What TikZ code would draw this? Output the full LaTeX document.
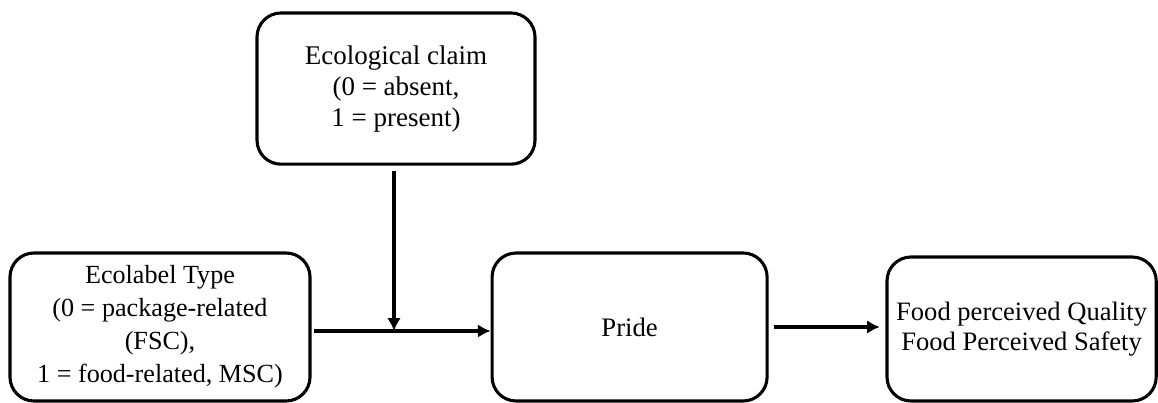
\documentclass[tikz,border=0pt]{standalone}
\usepackage{fontspec}
\setmainfont{Liberation Serif}
\usepackage{tikz}
\usetikzlibrary{positioning, arrows.meta}

\begin{document}
\begin{tikzpicture}[
    box/.style={draw, rectangle, rounded corners=0.6cm, line width=2.2pt, align=center},
    link/.style={line width=2.2pt, -{Latex[length=0.32cm, width=0.34cm]}}
]
        \useasboundingbox (0,0) rectangle (28.95,10.075);

        % Define the nodes
        \node[box, minimum width=7.5cm, minimum height=3.7cm, font=\fontsize{18.6}{23.5}\selectfont] (ecolabel) at (4.0,1.9)
            {Ecolabel Type\\(0 = package-related\\(FSC),\\1 = food-related, MSC)};
        \node[box, minimum width=6.95cm, minimum height=3.78cm, font=\fontsize{19.2}{22}\selectfont] (claim) at (9.9,7.86)
            {Ecological claim\\(0 = absent,\\1 = present)};
        \node[box, minimum width=6.875cm, minimum height=3.7cm, font=\fontsize{19}{22}\selectfont] (pride) at (15.74,1.9) {Pride};
        \node[box, minimum width=6.73cm, minimum height=3.6cm, font=\fontsize{18.9}{21.5}\selectfont] (quality) at (25.54,1.85)
            {Food perceived Quality\\Food Perceived Safety};

        % Define the edges
        \draw[link, shorten <=2pt] ([yshift=-0.1cm]ecolabel.east) -- ([yshift=-0.1cm]ecolabel.east -| pride.west);
        \draw[link, shorten <=4pt] ([xshift=-0.05cm]claim.south) -- ([xshift=-0.05cm,yshift=-0.1cm]claim.south |- ecolabel.east);
        \draw[link, shorten <=4pt, shorten >=4pt] (pride.east) -- (pride.east -| quality.west);
\end{tikzpicture}
\end{document}
